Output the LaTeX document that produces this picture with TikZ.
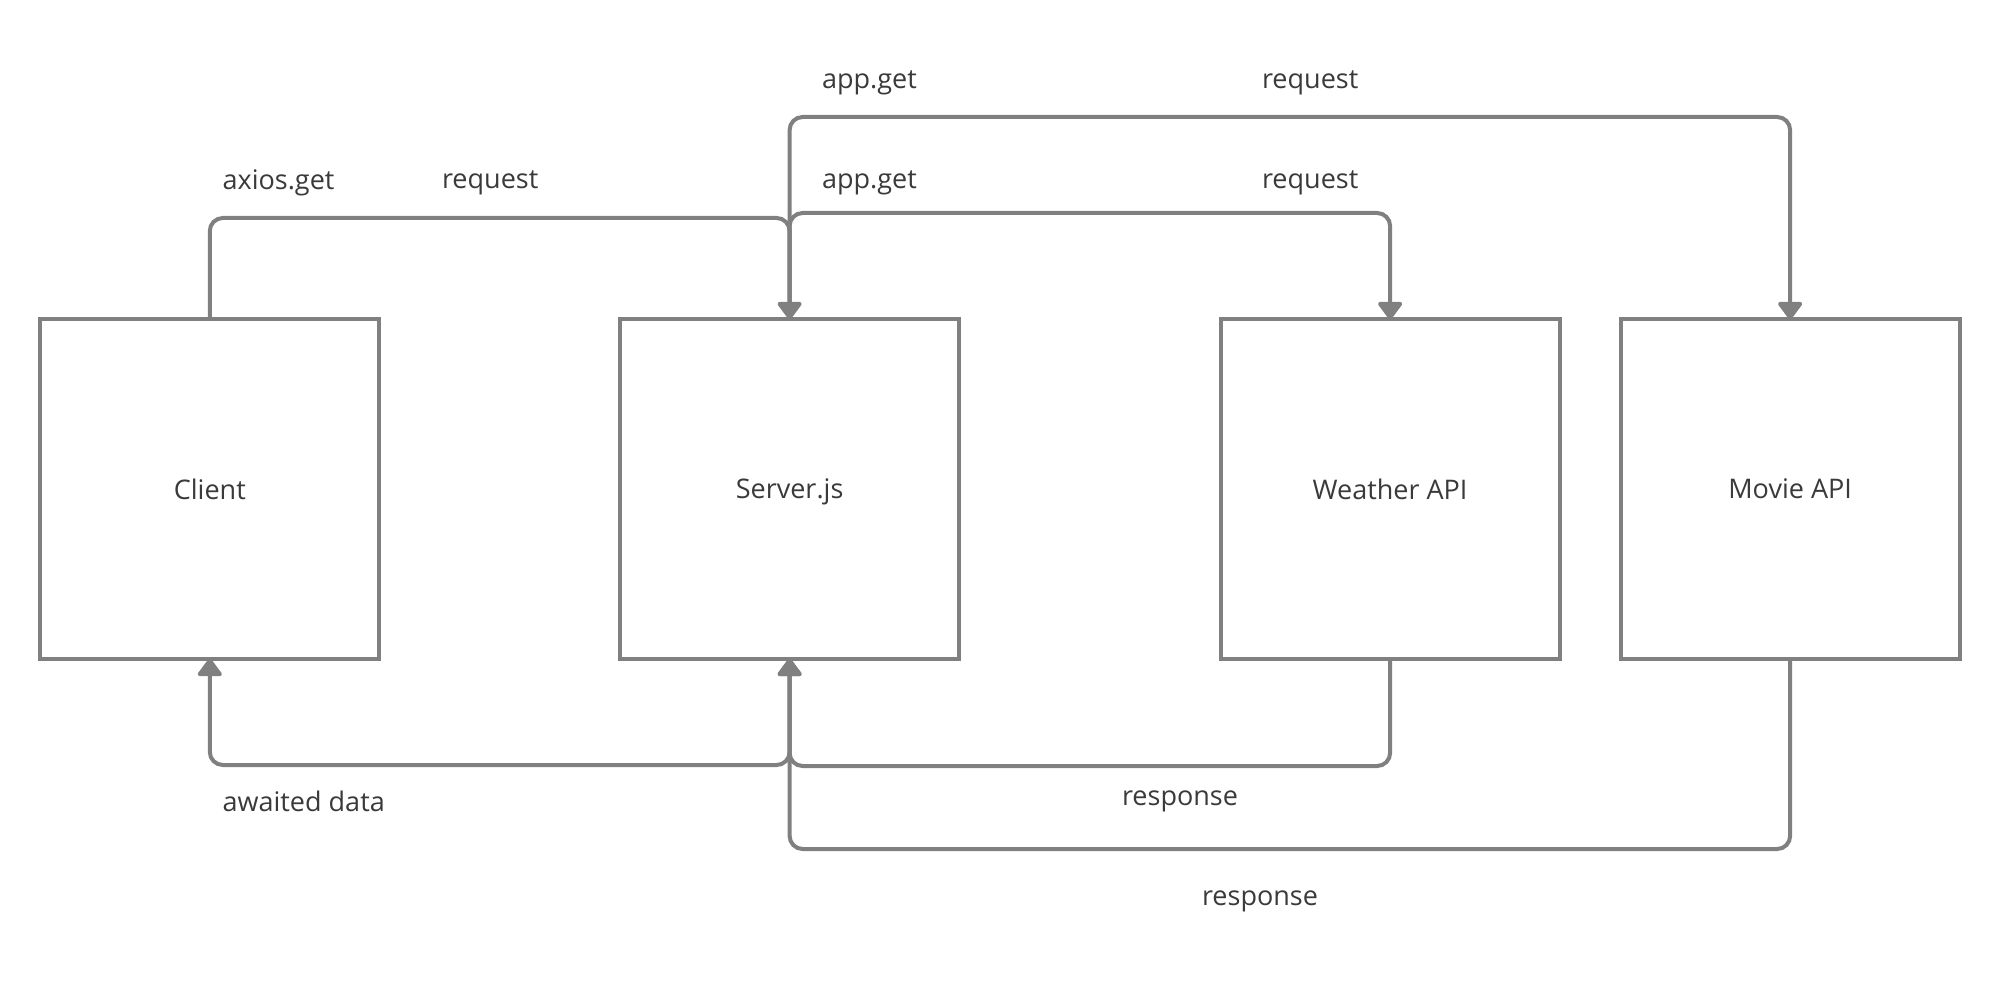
\documentclass[tikz,border=0pt]{standalone}
\usepackage{fontspec}
\setmainfont{Open Sans}
\usetikzlibrary{positioning}
\usetikzlibrary{arrows.meta}
\definecolor{linegray}{HTML}{808080}
\definecolor{textgray}{HTML}{3A3A3A}
\begin{document}
\begin{tikzpicture}[x=1pt,y=1pt,line width=2pt,>={Triangle[length=9.5pt,width=13.5pt,round]},
    box/.style={rectangle,draw=linegray,minimum size=169.6pt,inner sep=0pt,outer sep=0pt,text depth=0pt,text=textgray,font=\fontsize{13.5}{16}\selectfont},
    lbl/.style={anchor=west,inner sep=0pt,text=textgray,font=\fontsize{13.5}{16}\selectfont},
    flow/.style={draw=linegray,->,rounded corners=6.5pt}]
  \useasboundingbox (0,0) rectangle (1000,490);
  \node (client)  [box] at (104.9,245.5)           {Client};
  \node (server)  [box,right=120.3pt of client]    {Server.js};
  \node (weather) [box,right=130.65pt of server]   {Weather API};
  \node (movie)   [box,right=30.4pt of weather]    {Movie API};
  % requests
  \draw[flow] (client.north) -- ++(0,50.7) -| (server.north);
  \draw[flow] (server.north) -- ++(0,53.2) -| (weather.north);
  \draw[flow] (server.north) -- ++(0,101.2) -| (movie.north);
  % responses
  \draw[flow] (server.south) -- ++(0,-53.2) -| (client.south);
  \draw[flow] (weather.south) -- ++(0,-53.7) -| (server.south);
  \draw[flow] (movie.south) -- ++(0,-95.2) -| (server.south);
  % labels
  \node (axios)   [lbl] at (110.3,398.6) {axios.get};
  \node (req1)    [lbl] at (220,398.6)   {request};
  \node (appget1) [lbl] at (410,448.6)   {app.get};
  \node (req2)    [lbl] at (630,448.6)   {request};
  \node (appget2) [lbl] at (410,398.6)   {app.get};
  \node (req3)    [lbl] at (630,398.6)   {request};
  \node (awaited) [lbl] at (110.3,89.1)  {awaited data};
  \node (resp1)   [lbl] at (560,89.1)    {response};
  \node (resp2)   [lbl] at (600,39.1)    {response};
\end{tikzpicture}
\end{document}
